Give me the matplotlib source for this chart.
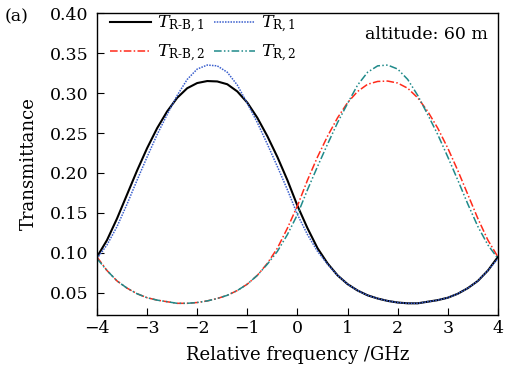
import matplotlib
matplotlib.use('Agg')
from matplotlib import pyplot as plt

plt.rcParams['font.family'] = ['DejaVu Serif']
plt.rcParams['mathtext.fontset'] = 'dejavuserif'

# relative frequency (GHz)
freq = [-4.0, -3.8, -3.6, -3.4, -3.2, -3.0, -2.8, -2.6, -2.4, -2.2, -2.0,
        -1.8, -1.6, -1.4, -1.2, -1.0, -0.8, -0.6, -0.4, -0.2, 0.0,
        0.2, 0.4, 0.6, 0.8, 1.0, 1.2, 1.4, 1.6, 1.8, 2.0,
        2.2, 2.4, 2.6, 2.8, 3.0, 3.2, 3.4, 3.6, 3.8, 4.0]

t_rb1 = [0.095, 0.116, 0.143, 0.173, 0.203, 0.231, 0.256, 0.277, 0.294, 0.306, 0.3125,
         0.315, 0.3145, 0.311, 0.302, 0.288, 0.269, 0.246, 0.220, 0.191, 0.159,
         0.131, 0.106, 0.087, 0.072, 0.061, 0.053, 0.047, 0.043, 0.040, 0.038,
         0.037, 0.037, 0.039, 0.041, 0.044, 0.049, 0.056, 0.065, 0.078, 0.095]

t_r1 = [0.093, 0.110, 0.133, 0.161, 0.191, 0.220, 0.248, 0.273, 0.297, 0.317, 0.330,
        0.335, 0.334, 0.326, 0.310, 0.287, 0.263, 0.236, 0.208, 0.179, 0.148,
        0.123, 0.102, 0.086, 0.072, 0.061, 0.053, 0.047, 0.043, 0.040, 0.038,
        0.037, 0.037, 0.039, 0.041, 0.044, 0.049, 0.056, 0.065, 0.078, 0.093]

t_rb2 = [0.095, 0.078, 0.065, 0.056, 0.049, 0.044, 0.041, 0.039, 0.037, 0.037, 0.038,
         0.040, 0.043, 0.047, 0.053, 0.061, 0.072, 0.087, 0.106, 0.131, 0.159,
         0.191, 0.220, 0.246, 0.269, 0.288, 0.302, 0.311, 0.3145, 0.315, 0.3125,
         0.306, 0.294, 0.277, 0.256, 0.231, 0.203, 0.173, 0.143, 0.116, 0.095]

t_r2 = [0.093, 0.078, 0.065, 0.056, 0.049, 0.044, 0.041, 0.039, 0.037, 0.037, 0.038,
        0.040, 0.043, 0.047, 0.053, 0.061, 0.072, 0.086, 0.102, 0.123, 0.148,
        0.179, 0.208, 0.236, 0.263, 0.287, 0.310, 0.326, 0.334, 0.335, 0.330,
        0.317, 0.297, 0.273, 0.248, 0.220, 0.191, 0.161, 0.133, 0.110, 0.093]

xticks = [-4, -3, -2, -1, 0, 1, 2, 3, 4]
yticks = [0.05, 0.10, 0.15, 0.20, 0.25, 0.30, 0.35, 0.40]

fig = plt.figure(figsize=(5.05, 3.74), dpi=100)
ax = fig.add_axes([0.192, 0.158, 0.794, 0.807])

l1, = ax.plot(freq, t_rb1, color='black', lw=1.5, label=r'$T_{\mathrm{R\text{-}B,1}}$')
l2, = ax.plot(freq, t_rb2, color='#ff2a1a', lw=1.1, ls=(0, (5, 1.5, 1, 1.5)),
              label=r'$T_{\mathrm{R\text{-}B,2}}$')
l3, = ax.plot(freq, t_r1, color='#3a5fcd', lw=1.1, ls=(0, (1, 0.8)),
              label=r'$T_{\mathrm{R,1}}$')
l4, = ax.plot(freq, t_r2, color='#1f8a8a', lw=1.1, ls=(0, (5, 1.5, 1, 1.5, 1, 1.5)),
              label=r'$T_{\mathrm{R,2}}$')

ax.set_xlim(-4, 4)
ax.set_ylim(0.0225, 0.40)
ax.set_xticks(xticks)
ax.set_xticklabels(['\u22124', '\u22123', '\u22122', '\u22121', '0', '1', '2', '3', '4'])
ax.set_yticks(yticks)
ax.set_yticklabels(['%.2f' % v for v in yticks])
ax.tick_params(direction='in', length=5, labelsize=12.5, top=False, right=False)
ax.tick_params(axis='y', pad=6)
for s in ax.spines.values():
    s.set_linewidth(1.0)

ax.set_xlabel('Relative frequency /GHz', fontsize=13, labelpad=7)
ax.set_ylabel('Transmittance', fontsize=13, labelpad=9)

ax.legend(handles=[l1, l2, l3, l4], ncol=2, frameon=False, fontsize=12.5,
          loc='upper left', bbox_to_anchor=(0.01, 1.025), handlelength=2.4,
          columnspacing=0.5, labelspacing=0.45, borderaxespad=0.1, handletextpad=0.3)

ax.text(0.975, 0.93, 'altitude: 60 m', transform=ax.transAxes,
        ha='right', va='center', fontsize=12.5)
fig.text(0.01, 0.955, '(a)', fontsize=12.5, va='center')

fig.savefig('out.png', dpi=100)
